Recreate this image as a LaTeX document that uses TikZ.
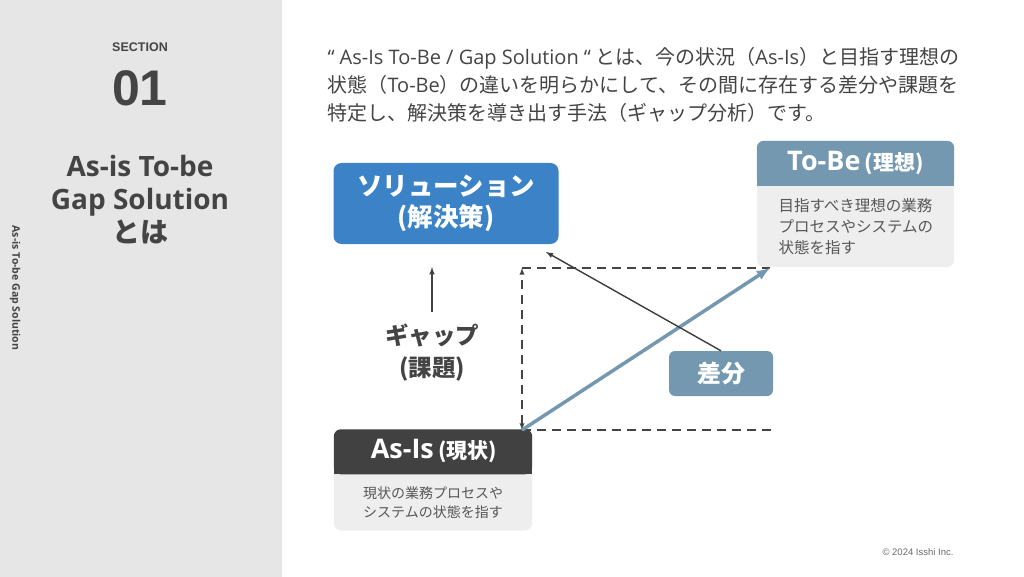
\documentclass[tikz,border=0pt]{standalone}
\usepackage{fontspec}
\setmainfont{Noto Sans CJK JP}
\newfontfamily\latinsans{Open Sans}
\newfontfamily\arialfont{Liberation Sans}
\definecolor{solblue}{HTML}{3B82C6}
\definecolor{steel}{HTML}{7398B0}
\definecolor{darkhead}{HTML}{414141}
\definecolor{boxgray}{HTML}{EEEEEE}
\definecolor{panelgray}{HTML}{E6E6E6}
\definecolor{inkgray}{HTML}{444444}
\begin{document}
\begin{tikzpicture}[x=1pt,y=-1pt,
	head/.style={text=white},
	body/.style={text=inkgray!90},
	dashline/.style={inkgray,line width=1.6pt,dash pattern=on 9pt off 6pt}]
		\useasboundingbox(0,0)rectangle(1024,577);
		% left panel
		\fill[panelgray](0,0)rectangle(282,577);
		\node(sec)at(140,47)[text=inkgray]{\arialfont\bfseries\fontsize{12.5}{14}\selectfont SECTION};
		\node(num)at(140,88)[text=inkgray]{\arialfont\bfseries\fontsize{50}{52}\selectfont 01};
		\node(title)at(140,200)[align=center,text=inkgray,font=\bfseries\fontsize{28}{33}\selectfont]{{\latinsans As-is To-be}\\{\latinsans Gap Solution}\\とは};
		\node(side)at(15,288)[rotate=-90,text=inkgray]{\latinsans\bfseries\fontsize{10.5}{12}\selectfont As-is To-be Gap Solution};
		% intro
		\node(intro)at(324,85)[anchor=west,align=left,text=inkgray,font=\fontsize{20}{28}\selectfont]{{\latinsans “ As-Is To-Be / Gap Solution “} とは、今の状況（{\latinsans As-Is}）と目指す理想の\\状態（{\latinsans To-Be}）の違いを明らかにして、その間に存在する差分や課題を\\特定し、解決策を導き出す手法（ギャップ分析）です。};
		% solution
		\node(sol)at(446,203.5)[fill=solblue,rounded corners=8pt,minimum width=225pt,minimum height=81pt,align=center,head,font=\bfseries\fontsize{25.5}{31}\selectfont]{ソリューション\\(解決策)};
		% to-be
		\node(tobe)at(855.5,204)[fill=boxgray,rounded corners=7pt,minimum width=197pt,minimum height=126pt]{};
		\fill[steel,rounded corners=7pt](tobe.north west)rectangle([yshift=-45pt]tobe.north east);
		\fill[steel]([yshift=-35pt]tobe.north west)rectangle([yshift=-45pt]tobe.north east);
		\node(tobetitle)at(855.5,163)[head,font=\bfseries]{\fontsize{27}{30}\selectfont{\latinsans To-Be}\,{\fontsize{21}{22}\selectfont(理想)}};
		\node(tobetext)at(775,227)[anchor=west,align=left,body,font=\fontsize{15.5}{21}\selectfont]{目指すべき理想の業務\\プロセスやシステムの\\状態を指す};
		% as-is
		\node(asis)at(433,480)[fill=boxgray,rounded corners=7pt,minimum width=198pt,minimum height=101pt]{};
		\fill[darkhead,rounded corners=7pt](asis.north west)rectangle([yshift=-45pt]asis.north east);
		\fill[darkhead]([yshift=-35pt]asis.north west)rectangle([yshift=-45pt]asis.north east);
		\node(asistitle)at(434,451)[head,font=\bfseries]{\fontsize{27}{30}\selectfont{\latinsans As-Is}\,{\fontsize{21}{22}\selectfont(現状)}};
		\node(asistext)at(433,503)[align=center,body,font=\fontsize{14}{19}\selectfont]{現状の業務プロセスや\\システムの状態を指す};
		% gap
		\node(sabun)at(721,373.5)[fill=steel,rounded corners=6pt,minimum width=104pt,minimum height=45pt,head,font=\bfseries\fontsize{24}{28}\selectfont]{差分};
		\node(gap)at(432,353)[align=center,text=inkgray,font=\bfseries\fontsize{23.5}{32}\selectfont]{ギャップ\\(課題)};
		\coordinate(gaptop)at(432,267);
		\coordinate(solc)at(546,252);
		\coordinate(corner)at(522,430);
		\coordinate(topc)at(522,268);
		\coordinate(tobec)at(770,268);
		\coordinate(asisend)at(772,430);
		\draw[dashline](topc)--(tobec);
		\draw[dashline](corner)--(asisend);
		\draw[dashline,line width=1.3pt,latex-latex](corner)--(topc);
		\draw[inkgray,line width=1.5pt,-latex]([yshift=9pt]gap.north)--(gaptop);
		\draw[steel,line width=3.5pt,-latex](corner)--(tobec);
		\draw[inkgray!90!black,line width=1.4pt,-latex](sabun.north)--(solc);
		% footer
		\node(copy)at(918,552)[text=inkgray!80]{\arialfont\fontsize{9.5}{11}\selectfont © 2024 Isshi Inc.};
	\end{tikzpicture}
\end{document}
